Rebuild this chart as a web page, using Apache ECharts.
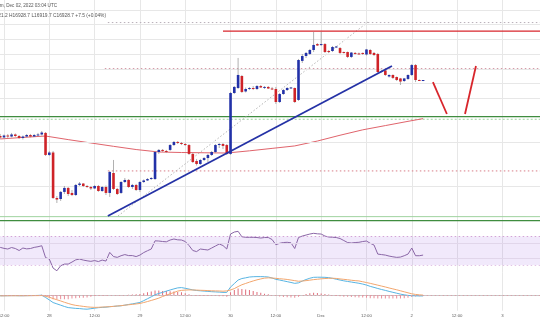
<!DOCTYPE html>
<html>
<head>
<meta charset="utf-8">
<script src="https://cdn.jsdelivr.net/npm/echarts@6/dist/echarts.min.js"></script>
<style>
html,body{margin:0;padding:0;background:#fff;}
#chart{width:540px;height:336px;}
</style>
</head>
<body>
<div id="chart"></div>
<script>
// BTC/USD hourly, Nov 27 11:00 UTC to Dec 02 03:00 UTC.
// Hours are counted from Nov 27 2022 00:00 UTC.
const startHour = 11;

// [open, close, low, high]
const candles = [
  [16494,16483,16471,16510],[16483,16498,16475,16506],[16498,16490,16479,16510],[16490,16506,16483,16518],
  [16506,16494,16487,16514],[16494,16479,16471,16502],[16479,16490,16467,16498],[16490,16502,16483,16510],
  [16502,16490,16483,16510],[16490,16502,16487,16510],[16502,16506,16494,16518],[16506,16521,16498,16533],
  [16518,16347,16339,16525],[16347,16366,16339,16378],[16366,16013,16005,16378],[16013,16001,15974,16028],
  [16005,16060,15990,16067],[16060,16091,16044,16106],[16091,16044,16028,16098],[16052,16036,16028,16075],
  [16036,16114,16028,16122],[16114,16125,16106,16137],[16125,16106,16098,16129],[16106,16098,16091,16114],
  [16098,16087,16075,16106],[16087,16106,16083,16114],[16106,16067,16060,16114],[16067,16098,16060,16106],
  [16098,16052,16036,16110],[16052,16215,16021,16223],[16207,16083,16075,16308],[16083,16044,16036,16091],
  [16052,16137,16044,16145],[16137,16153,16129,16168],[16153,16098,16091,16160],[16098,16114,16083,16122],
  [16114,16075,16067,16122],[16075,16137,16060,16145],[16137,16149,16129,16157],[16149,16160,16145,16168],
  [16160,16168,16153,16176],[16160,16370,16153,16378],[16370,16386,16355,16393],[16386,16378,16370,16393],
  [16378,16370,16362,16386],[16386,16424,16378,16432],[16424,16448,16417,16455],[16448,16440,16432,16455],
  [16440,16432,16424,16448],[16432,16424,16417,16440],[16424,16355,16347,16432],[16355,16292,16285,16362],
  [16300,16277,16265,16316],[16277,16308,16269,16316],[16308,16323,16300,16331],[16323,16347,16292,16355],
  [16347,16370,16339,16378],[16370,16424,16362,16432],[16424,16432,16401,16440],[16432,16417,16393,16440],
  [16424,16355,16347,16432],[16355,16828,16347,16836],[16828,16875,16820,16882],[16867,16968,16859,17100],
  [16960,16836,16828,16968],[16840,16859,16832,16870],[16859,16867,16851,16875],[16867,16863,16851,16882],
  [16859,16882,16851,16890],[16882,16871,16867,16890],[16871,16875,16859,16882],[16875,16863,16859,16882],
  [16863,16859,16851,16875],[16859,16758,16743,16875],[16758,16820,16750,16828],[16820,16851,16813,16859],
  [16851,16867,16844,16875],[16867,16871,16859,16875],[16867,16758,16750,16871],[16774,17084,16766,17092],
  [17077,17115,17061,17131],[17115,17139,17100,17146],[17131,17162,17123,17170],[17162,17201,17146,17302],
  [17208,17197,17193,17216],[17201,17208,17193,17302],[17208,17146,17139,17216],[17154,17146,17139,17162],
  [17154,17185,17146,17193],[17185,17189,17177,17193],[17177,17139,17131,17185],[17146,17142,17135,17150],
  [17146,17108,17100,17150],[17108,17142,17100,17146],[17139,17135,17127,17146],[17135,17131,17127,17142],
  [17139,17131,17123,17142],[17127,17166,17119,17170],[17162,17131,17123,17170],[17139,17123,17115,17146],
  [17131,16991,16983,17139],[16995,16999,16987,17007],[17003,16968,16960,17007],[16956,16968,16948,16972],
  [16968,16945,16937,16972],[16952,16929,16921,16956],[16941,16917,16890,16945],[16921,16941,16913,16945],
  [16937,16968,16929,16972],[16968,17045,16960,17053],[17045,16929,16913,17053],[16929,16925,16921,16933],
  [16921.2,16928.7,16919.7,16928.7]
];

// 100-period simple moving average
const smaHours  = [11,17,23,29,35,41,47,53,59,65,71,77,83,89,95,101,107,113,119,123];
const smaValues = [16471,16483,16494,16466,16440,16414,16389,16370,16366,16364,16362,16379,16398,16417,16455,16500,16542,16575,16608,16629];

// RSI(14)
const rsi = [
  54.8,53.4,52.5,54.6,53.2,50.4,53.9,52.7,53.2,54.8,55.7,57.1,
  40.5,38.4,25.8,22.0,29.0,31.4,31.4,34.2,37.3,38.4,37.0,36.0,
  35.2,36.3,34.9,37.0,35.6,47.8,41.9,40.8,43.1,44.7,43.3,43.3,
  41.9,44.0,47.5,50.1,52.5,64.0,63.7,63.0,62.6,65.1,66.5,65.4,
  65.1,63.0,57.4,50.4,48.9,52.5,51.8,51.1,53.9,56.7,59.5,57.4,
  52.5,73.5,76.3,77.3,69.7,68.9,68.9,68.9,68.6,67.9,68.6,68.6,
  65.8,58.5,60.5,61.6,61.9,61.2,53.2,68.6,70.7,72.1,73.5,74.5,
  73.8,73.5,70.7,69.3,69.0,68.6,67.2,64.4,61.6,60.9,61.6,61.9,
  63.0,63.7,60.5,58.1,45.4,44.7,44.0,42.6,41.6,40.8,41.2,43.1,
  45.4,53.9,43.1,43.1,44.0
];

// MACD(12,26,9): MACD line and signal line
const macd = [
  -7,-6,-6,-5,-5,-6,-6,-5,-5,-4,-3,-1,
  -23,-48,-74,-87,-100,-113,-124,-128,-132,-134,-138,-140,
  -135,-130,-125,-122,-120,-115,-112,-109,-106,-100,-93,-87,
  -80,-73,-55,-36,-17,3,17,27,40,51,62,72,
  75,68,60,52,46,43,40,37,34,32,30,27,
  27,80,115,150,165,172,180,183,184,184,183,180,
  170,157,150,142,134,126,117,122,140,155,168,177,
  178,178,177,174,167,158,150,142,136,130,124,118,
  110,100,87,77,66,56,47,37,28,19,10,3,
  -3,-6,-7,-8,-8
];
const signal = [
  -7,-7,-6,-6,-6,-6,-6,-6,-5,-5,-5,-4,
  -10,-21,-34,-46,-58,-71,-83,-94,-102,-107,-112,-117,
  -120,-122,-121,-119,-117,-115,-112,-108,-105,-100,-96,-92,
  -88,-83,-74,-64,-53,-42,-30,-14,0,13,26,40,
  47,50,52,51,50,48,47,45,43,42,41,39,
  42,51,65,85,103,116,129,141,152,161,169,172,
  170,167,163,160,156,150,144,138,140,144,149,154,
  158,162,165,167,168,166,161,157,153,148,144,141,
  133,125,117,108,99,90,81,71,62,53,43,33,
  23,13,7,3,0
];

// x-axis tick labels, one per 12 hours starting Nov 27 00:00
const xTickLabels = ['27','12:00','28','12:00','29','12:00','30','12:00','Dec','12:00','2','12:00','3','12:00'];

// drawn levels and trend lines (hour, price)
const priceGridLevels = [17472,17358,17244,17130,17016,16902,16788,16445,16103];
const supportTrend  = [[39.5,15873],[114.75,17038]];
const guideDiagonal = [[42.2,15873],[108.4,17379]];
const resistanceLevel = 17309, resistanceFrom = 70;
const upperZone = [16644,16624];
const lowerZone = [15868,15837];
const dottedLevels = [17375,17018,16223], dottedFrom = 39;
const pathDown = [[125.6,16913],[129.3,16665]];
const pathUp   = [[134.1,16665],[137.0,17038]];

const headerLine1 = 'published on TradingView.com, Dec 02, 2022 03:04 UTC';
const headerLine2 = 'O16921.2 H16928.7 L16919.7 C16928.7 +7.5 (+0.04%)';

// ---------- layout ----------
const X_MAX = 156;
const GL = -41.3, GR = -7.7;
const UP = '#2231a8', DOWN = '#cf2328', WICK = '#9d9d9d', GRID = '#e7e7e7';
const FONT = 'Liberation Sans, Arial, sans-serif';

const hourAt = i => startHour + i;
const candleData = candles.map((c, i) => [hourAt(i), c[0], c[1], c[2], c[3]]);
const rsiData = rsi.map((v, i) => [hourAt(i), v]);
const macdData = macd.map((v, i) => [hourAt(i), v]);
const signalData = signal.map((v, i) => [hourAt(i), v]);
const histData = macd.map((v, i) => [hourAt(i), v - signal[i]]);
const smaData = smaHours.map((h, i) => [h, smaValues[i]]);

function xAxisFor(idx, showLabels) {
  return {
    type: 'value', gridIndex: idx, min: 0, max: X_MAX, interval: 12,
    axisLine: { show: showLabels, lineStyle: { color: '#c8c8c8', width: 1 } },
    axisTick: { show: false },
    axisLabel: {
      show: showLabels, fontSize: 4.3, color: '#5a5a5a', margin: 3.5, fontFamily: FONT,
      hideOverlap: false, showMinLabel: true, showMaxLabel: true,
      formatter: v => xTickLabels[Math.round(v / 12)] || ''
    },
    splitLine: { show: true, lineStyle: { color: GRID, width: 1 } }
  };
}

function segment(data, color, width, type, z) {
  return {
    type: 'line', xAxisIndex: 0, yAxisIndex: 0, data: data, symbol: 'none', silent: true,
    lineStyle: { color: color, width: width, type: type || 'solid' }, z: z || 3, animation: false
  };
}
const level = (p, from) => [[from, p], [X_MAX, p]];

const gridBase = { left: GL, right: GR, containLabel: false, outerBoundsMode: 'none' };

const option = {
  animation: false,
  backgroundColor: '#ffffff',
  grid: [
    Object.assign({ top: 0, height: 229.4 }, gridBase),
    Object.assign({ top: 229.4, height: 42.8 }, gridBase),
    Object.assign({ top: 272.2, height: 38.5 }, gridBase)
  ],
  xAxis: [xAxisFor(0, false), xAxisFor(1, false), xAxisFor(2, true)],
  yAxis: [
    { type: 'value', gridIndex: 0, min: 15769, max: 17550, show: false, splitLine: { show: false } },
    { type: 'value', gridIndex: 1, min: 20, max: 80, show: false, splitLine: { show: false } },
    { type: 'value', gridIndex: 2, min: -155, max: 228, show: false, splitLine: { show: false } }
  ],
  graphic: [
    { type: 'text', x: 57, y: 5.7, z: 100,
      style: { text: headerLine1, fill: '#555', fontSize: 4.6, align: 'right', verticalAlign: 'middle', fontFamily: FONT } },
    { type: 'text', x: 106, y: 16, z: 100,
      style: { text: headerLine2, fill: '#555', fontSize: 4.85, align: 'right', verticalAlign: 'middle', fontFamily: FONT } }
  ],
  series: [
    // horizontal price grid
    {
      type: 'line', xAxisIndex: 0, yAxisIndex: 0, data: [], silent: true, z: 1,
      markLine: {
        silent: true, symbol: 'none', label: { show: false },
        lineStyle: { color: GRID, width: 1, type: 'solid' },
        data: priceGridLevels.map(p => ({ yAxis: p }))
      }
    },
    // support / resistance zones
    segment(level(upperZone[0], 0), '#3f8d3f', 1.2, 'solid', 2),
    segment(level(upperZone[1], 0), '#9fd39f', 1, [2, 2], 2),
    segment(level(lowerZone[0], 0), '#9fd39f', 1, 'solid', 2),
    segment(level(lowerZone[1], 0), '#3f8d3f', 1.2, 'solid', 2),
    segment(level(dottedLevels[0], dottedFrom + 0.5), '#b9b0b9', 1, [1.5, 2.5], 2),
    segment(level(dottedLevels[1], dottedFrom - 0.3), '#d59aa6', 1, [1.5, 2.5], 2),
    segment(level(dottedLevels[2], dottedFrom + 0.5), '#d77c86', 1, [1.5, 2.5], 2),
    segment(level(resistanceLevel, resistanceFrom), '#d8262c', 1.3, 'solid', 4),
    segment(guideDiagonal, '#b5b5b5', 1, [1.5, 2], 2),
    // 100 SMA
    segment(smaData, '#e0646c', 1, 'solid', 3),
    // candles
    {
      type: 'custom', xAxisIndex: 0, yAxisIndex: 0, z: 5, data: candleData,
      encode: { x: 0, y: [1, 2, 3, 4] },
      renderItem: function (params, api) {
        const x = api.value(0), o = api.value(1), c = api.value(2), l = api.value(3), h = api.value(4);
        const po = api.coord([x, o]), pc = api.coord([x, c]);
        const pl = api.coord([x, l]), ph = api.coord([x, h]);
        const w = 2.6;
        const top = Math.min(po[1], pc[1]);
        const bh = Math.max(Math.abs(po[1] - pc[1]), 1);
        return {
          type: 'group',
          children: [
            { type: 'line', shape: { x1: po[0], y1: ph[1], x2: po[0], y2: pl[1] },
              style: { stroke: WICK, lineWidth: 0.8 } },
            { type: 'rect', shape: { x: po[0] - w / 2, y: top, width: w, height: bh },
              style: { fill: c >= o ? UP : DOWN } }
          ]
        };
      }
    },
    // trend line and projected path
    segment(supportTrend, '#2532a6', 1.8, 'solid', 6),
    segment(pathDown, '#d8262c', 1.8, 'solid', 6),
    segment(pathUp, '#d8262c', 1.8, 'solid', 6),

    // RSI pane
    {
      type: 'line', xAxisIndex: 1, yAxisIndex: 1, data: rsiData, symbol: 'none', silent: true, z: 4,
      lineStyle: { color: '#8a66a6', width: 1 },
      markArea: { silent: true, itemStyle: { color: 'rgba(160,110,230,0.15)' },
                  data: [[{ yAxis: 70 }, { yAxis: 30 }]] },
      markLine: { silent: true, symbol: 'none', label: { show: false },
                  data: [
                    { yAxis: 70, lineStyle: { color: '#d3a3d6', width: 1, type: [1.5, 2.5] } },
                    { yAxis: 60, lineStyle: { color: '#e1d6ea', width: 1, type: 'solid' } },
                    { yAxis: 40, lineStyle: { color: '#e1d6ea', width: 1, type: 'solid' } },
                    { yAxis: 30, lineStyle: { color: '#e3c4e6', width: 1, type: [1.5, 2.5] } }
                  ] }
    },

    // MACD pane
    {
      type: 'bar', xAxisIndex: 2, yAxisIndex: 2, data: histData, barWidth: 1, silent: true, z: 3,
      itemStyle: { color: p => (p.value[1] >= 0 ? '#e06d7b' : '#ea8d98') },
      markLine: { silent: true, symbol: 'none', label: { show: false },
                  lineStyle: { color: '#d9a3ab', width: 1, type: [1.5, 2.5] },
                  data: [{ yAxis: 0 }] }
    },
    { type: 'line', xAxisIndex: 2, yAxisIndex: 2, data: macdData, symbol: 'none', silent: true, z: 4,
      lineStyle: { color: '#58b4e2', width: 1 } },
    { type: 'line', xAxisIndex: 2, yAxisIndex: 2, data: signalData, symbol: 'none', silent: true, z: 4,
      lineStyle: { color: '#f2a66e', width: 1 } }
  ]
};

const chart = echarts.init(document.getElementById('chart'), null, { renderer: 'canvas' });
chart.setOption(option);
</script>
</body>
</html>
